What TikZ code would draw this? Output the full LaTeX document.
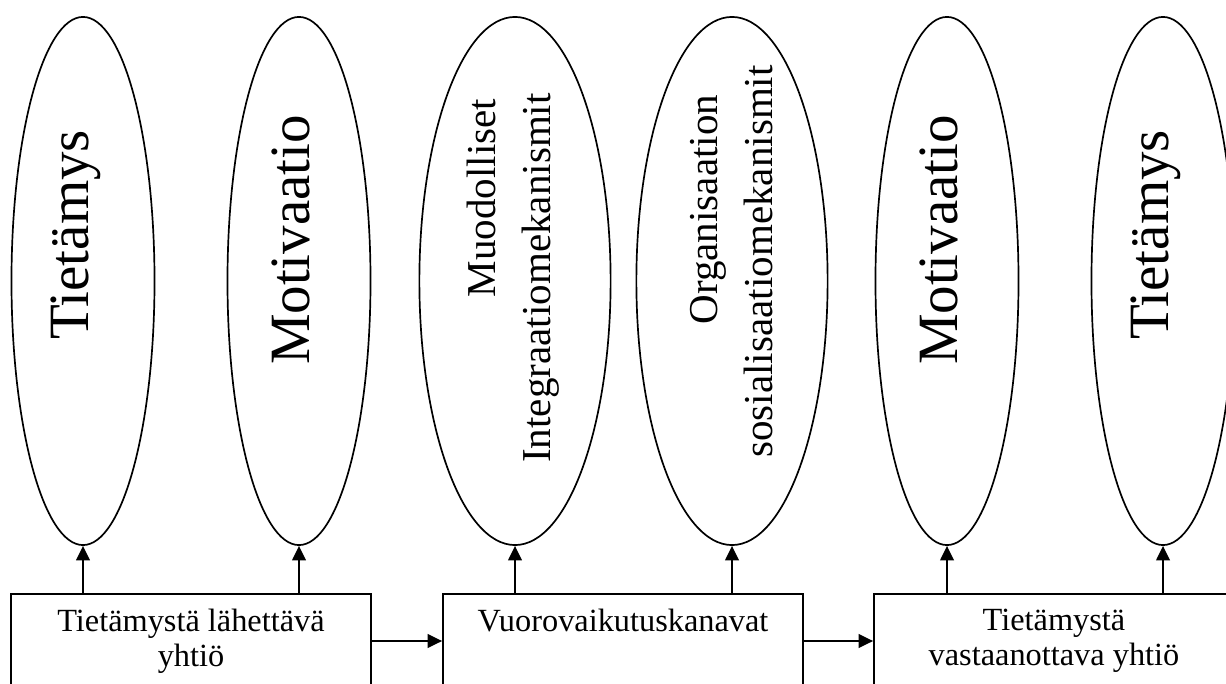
\documentclass[tikz,border=0pt]{standalone}
\usepackage{fontspec}
\setmainfont{Liberation Serif}
\usetikzlibrary{shapes.geometric,arrows.meta}

\begin{document}
\begin{tikzpicture}[x=0.025cm, y=-0.025cm,
    factor/.style={shape=ellipse, draw=black, line width=1.2pt, inner sep=0pt, minimum height=13.2cm, minimum width=3.575cm},
    widefactor/.style={factor, minimum width=4.78cm},
    company/.style={shape=rectangle, draw=black, line width=1.2pt, minimum width=9cm, minimum height=2.35cm},
    bigtext/.style={rotate=90, inner sep=0pt, font=\fontsize{40.5}{48}\selectfont},
    twotext/.style={rotate=90, inner sep=0pt, align=right, font=\fontsize{29.2}{39}\selectfont},
    boxtext/.style={inner sep=0pt, align=center, font=\fontsize{23}{25}\selectfont},
    arr/.style={-{Triangle[length=3.6mm, width=3.4mm]}, line width=1.2pt}]

    \useasboundingbox (0, 0) rectangle (1226, 684);
    \clip (0, 0) rectangle (1226, 684);

    % ellipses
    \node[factor]     (kn1)  at (83, 281)   {};
    \node[factor]     (mot1) at (299, 281)  {};
    \node[widefactor] (form) at (515, 281)  {};
    \node[widefactor] (soc)  at (732, 281)  {};
    \node[factor]     (mot2) at (947, 281)  {};
    \node[factor]     (kn2)  at (1163, 281) {};

    \node[bigtext] (kn1t)  at (76, 235)   {Tietämys};
    \node[bigtext] (mot1t) at (291, 240)  {Motivaatio};
    \node[twotext, anchor=east] (formt) at (513, 93) {Muodolliset\kern 4pt\\Integraatiomekanismit};
    \node[twotext, anchor=east] (soct)  at (732, 65) {Organisaation\kern 21pt\\sosialisaatiomekanismit};
    \node[bigtext] (mot2t) at (939, 240)  {Motivaatio};
    \node[bigtext] (kn2t)  at (1156, 235) {Tietämys};

    % boxes
    \node[company] (send) at (191, 641)  {};
    \node[company] (chan) at (623, 641)  {};
    \node[company] (recv) at (1054, 641) {};

    \node[boxtext, anchor=north] (sendt) at (191, 609)  {Tietämystä lähettävä\\yhtiö};
    \node[boxtext, anchor=north] (chant) at (623, 609)  {Vuorovaikutuskanavat};
    \node[boxtext, anchor=north] (recvt) at (1054, 609) {Tietämystä\\vastaanottava yhtiö};

    \path[arr] (send.north -| kn1) edge (kn1);
    \path[arr] (send.north -| mot1) edge (mot1);
    \path[arr] (chan.north -| form) edge (form);
    \path[arr] (chan.north -| soc) edge (soc);
    \path[arr] (recv.north -| mot2) edge (mot2);
    \path[arr] (recv.north -| kn2) edge (kn2);

    \path[arr] (send) edge (chan);
    \path[arr] (chan) edge (recv);

\end{tikzpicture}
\end{document}
